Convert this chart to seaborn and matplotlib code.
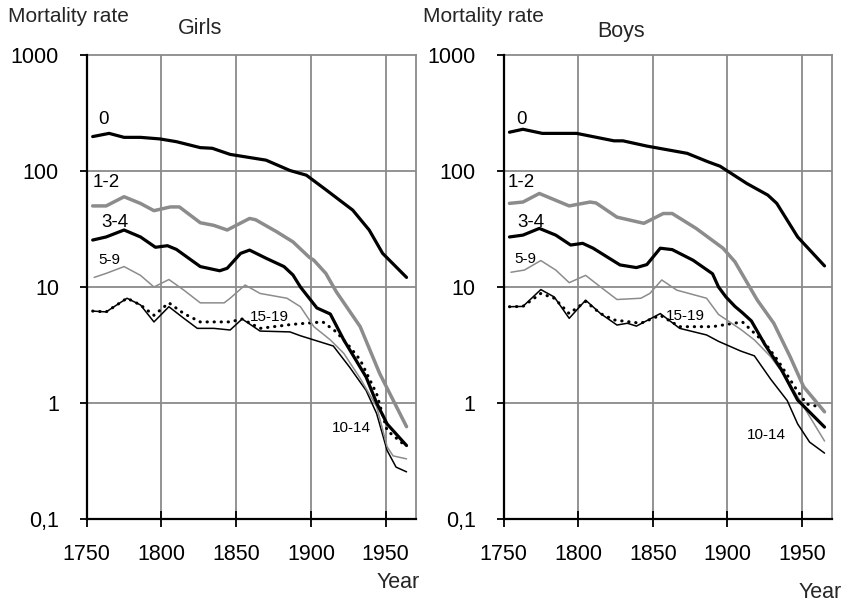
import numpy as np
import pandas as pd
import matplotlib
matplotlib.use("Agg")
import matplotlib.pyplot as plt
import seaborn as sns

# ---------------- data ----------------
# Girls
g0_years = [1754, 1765, 1775, 1786, 1799, 1810, 1826, 1834, 1846, 1870, 1886, 1897, 1910, 1928, 1939, 1948, 1964]
g0_vals = [198, 211, 195, 195, 189, 179, 159, 157, 139, 124, 101, 92, 69, 46, 31, 19.5, 12.1]

g12_years = [1754, 1763, 1775, 1786, 1795, 1806, 1812, 1826, 1835, 1844, 1859, 1863, 1877, 1888, 1899, 1902, 1910, 1917, 1933, 1946, 1964]
g12_vals = [50, 50, 60, 52.5, 45.5, 49, 49, 35.8, 34, 31, 39, 38, 30, 24.5, 18, 17, 13.1, 9.1, 4.55, 1.8, 0.625]

g34_years = [1754, 1763, 1775, 1786, 1796, 1804, 1810, 1826, 1839, 1844, 1853, 1859, 1870, 1882, 1888, 1893, 1904, 1913, 1922, 1937, 1944, 1951, 1964]
g34_vals = [25.4, 27, 31, 27, 22, 22.7, 21.1, 15, 13.8, 14.5, 19.5, 20.8, 17.7, 15, 12.7, 10, 6.6, 5.85, 3.5, 1.67, 1.0, 0.66, 0.43]

g59_years = [1755, 1763, 1775, 1786, 1795, 1805, 1815, 1826, 1842, 1846, 1856, 1866, 1884, 1893, 1902, 1913, 1922, 1933, 1944, 1951, 1955, 1964]
g59_vals = [12.1, 13.1, 15, 12.6, 10, 11.6, 9.4, 7.3, 7.3, 8, 10.4, 8.8, 8, 6.76, 4.55, 3.5, 2.68, 1.63, 0.93, 0.42, 0.35, 0.33]

g1014_years = [1754, 1763, 1777, 1786, 1795, 1805, 1815, 1824, 1835, 1846, 1854, 1866, 1886, 1893, 1915, 1926, 1937, 1944, 1951, 1957, 1964]
g1014_vals = [6.2, 6.1, 8, 7.0, 5.0, 6.76, 5.37, 4.4, 4.4, 4.26, 5.3, 4.17, 4.1, 3.8, 3.1, 2.03, 1.28, 0.81, 0.39, 0.28, 0.255]

g1519_years = [1754, 1763, 1777, 1786, 1795, 1805, 1815, 1826, 1846, 1854, 1866, 1888, 1908, 1917, 1926, 1933, 1944, 1951, 1964]
g1519_vals = [6.2, 6.1, 8, 7.0, 5.7, 7.3, 5.9, 5.0, 5.0, 5.3, 4.4, 4.77, 5.0, 4.1, 3.05, 2.35, 1.2, 0.58, 0.42]

# Boys
b0_years = [1754, 1763, 1776, 1799, 1824, 1830, 1846, 1873, 1887, 1895, 1913, 1927, 1933, 1947, 1965]
b0_vals = [216, 229, 211, 211, 182, 182, 164, 142, 120, 110, 78, 62, 52.6, 27, 15.2]

b12_years = [1754, 1763, 1774, 1794, 1808, 1812, 1826, 1844, 1857, 1863, 1879, 1897, 1905, 1920, 1931, 1942, 1951, 1965]
b12_vals = [52.6, 54, 64, 50, 54, 53, 40, 35.4, 43, 43, 32, 21.6, 16.5, 7.7, 4.87, 2.5, 1.38, 0.84]

b34_years = [1754, 1763, 1774, 1785, 1795, 1803, 1810, 1828, 1839, 1846, 1855, 1863, 1877, 1890, 1894, 1899, 1905, 1910, 1916, 1925, 1936, 1947, 1965]
b34_vals = [27, 28, 32, 28, 23, 23.8, 21.6, 15.5, 14.7, 15.6, 21.6, 21, 17, 13, 10, 8.2, 6.8, 6.0, 5.1, 3.2, 1.95, 1.06, 0.62]

b59_years = [1755, 1764, 1775, 1785, 1794, 1805, 1815, 1826, 1842, 1848, 1856, 1866, 1886, 1894, 1909, 1918, 1929, 1940, 1951, 1965]
b59_vals = [13.4, 14, 16.9, 14, 10.9, 12.6, 10, 7.8, 8, 8.8, 11.5, 9.4, 8, 5.8, 4.3, 3.5, 2.5, 1.6, 0.93, 0.47]

b1014_years = [1754, 1763, 1775, 1784, 1794, 1805, 1815, 1826, 1833, 1839, 1855, 1868, 1886, 1894, 1909, 1918, 1929, 1940, 1947, 1955, 1965]
b1014_vals = [6.76, 6.8, 9.5, 8.2, 5.37, 7.7, 5.9, 4.7, 4.87, 4.6, 5.9, 4.4, 3.86, 3.4, 2.8, 2.55, 1.6, 1.05, 0.66, 0.46, 0.37]

b1519_years = [1754, 1763, 1775, 1784, 1794, 1805, 1815, 1824, 1842, 1855, 1868, 1890, 1910, 1925, 1934, 1945, 1953, 1963]
b1519_vals = [6.76, 6.8, 8.8, 8.0, 5.9, 7.5, 5.9, 5.2, 4.87, 5.7, 4.55, 4.55, 5.0, 3.3, 2.3, 1.38, 0.98, 0.92]

age_groups = ["0", "1-2", "3-4", "5-9", "10-14", "15-19"]
panel_titles = ["Girls", "Boys"]
x_ticks = [1750, 1800, 1850, 1900, 1950]
y_ticks = [0.1, 1, 10, 100, 1000]
y_tick_labels = ["0,1", "1", "10", "100", "1000"]

# label anchor positions (year, value) for the in-plot age labels
girls_label_pos = {"0": (1761, 277), "1-2": (1763, 79), "3-4": (1769, 35.8),
                   "5-9": (1765, 17.1), "15-19": (1872, 5.5), "10-14": (1927, 0.61)}
boys_label_pos = {"0": (1762, 277), "1-2": (1762, 79), "3-4": (1768.5, 36),
                  "5-9": (1764.5, 17.6), "15-19": (1872, 5.6), "10-14": (1926, 0.526)}

girls = {"0": (g0_years, g0_vals), "1-2": (g12_years, g12_vals), "3-4": (g34_years, g34_vals),
         "5-9": (g59_years, g59_vals), "10-14": (g1014_years, g1014_vals), "15-19": (g1519_years, g1519_vals)}
boys = {"0": (b0_years, b0_vals), "1-2": (b12_years, b12_vals), "3-4": (b34_years, b34_vals),
        "5-9": (b59_years, b59_vals), "10-14": (b1014_years, b1014_vals), "15-19": (b1519_years, b1519_vals)}

# ---------------- styling ----------------
sns.set_theme(style="white")
plt.rcParams["font.family"] = ["Liberation Sans", "DejaVu Sans"]

GRID = "#8a8a8a"
GRAY = "#8c8c8c"
styles = {
    "0": dict(color="black", lw=2.3),
    "1-2": dict(color=GRAY, lw=2.5),
    "3-4": dict(color="black", lw=2.3),
    "5-9": dict(color=GRAY, lw=1.1),
    "10-14": dict(color="black", lw=1.1),
    "15-19": dict(color="black", lw=2.2, linestyle=(0, (0.1, 2.2)), dash_capstyle="round"),
}
label_sizes = {"0": 13.5, "1-2": 13.5, "3-4": 13.5, "5-9": 11, "15-19": 11, "10-14": 11}

W, H = 846, 603
fig = plt.figure(figsize=(W / 100, H / 100), dpi=100)
fig.patch.set_facecolor("white")

axes_px = [(86.7, 415.5), (503.5, 832.0)]
top_px, bot_px = 55, 519

for i, (data, lpos) in enumerate([(girls, girls_label_pos), (boys, boys_label_pos)]):
    l, r = axes_px[i]
    ax = fig.add_axes([l / W, 1 - bot_px / H, (r - l) / W, (bot_px - top_px) / H])
    ax.set_yscale("log")
    ax.set_xlim(1750, 1970)
    ax.set_ylim(0.1, 1000)
    # grid
    for xv in x_ticks[1:]:
        ax.axvline(xv, color=GRID, lw=1.3, zorder=0)
    for yv in y_ticks[1:-1]:
        ax.axhline(yv, color=GRID, lw=1.3, zorder=0)
    order = ["15-19", "10-14", "5-9", "3-4", "1-2", "0"]
    for key in order:
        yrs, vals = data[key]
        df = pd.DataFrame({"Year": yrs, "Rate": vals})
        sns.lineplot(data=df, x="Year", y="Rate", ax=ax, sort=False, zorder=3, **styles[key])
    for key in age_groups:
        xv, yv = lpos[key]
        ax.text(xv, yv, key, fontsize=label_sizes[key], ha="center", va="center", color="black", zorder=5)
    ax.set_xlabel("")
    ax.set_ylabel("")
    ax.set_xticks(x_ticks)
    ax.set_xticklabels([str(t) for t in x_ticks], fontsize=15.5)
    ax.set_yticks(y_ticks)
    ax.set_yticklabels(y_tick_labels, fontsize=15.5)
    ax.minorticks_off()
    ax.tick_params(axis="x", direction="inout", length=12, width=1.3, color="black", pad=12, labelcolor="black")
    ax.tick_params(axis="y", direction="out", length=5, width=1.3, color="black", pad=15, labelcolor="black", left=True)
    ax.tick_params(axis="x", bottom=True)
    for s in ["left", "bottom"]:
        ax.spines[s].set_color("black")
        ax.spines[s].set_linewidth(1.6)
        ax.spines[s].set_zorder(4)
    for s in ["top", "right"]:
        ax.spines[s].set_color(GRID)
        ax.spines[s].set_linewidth(1.3)
    ax.set_facecolor("white")

# titles and axis captions
fig.text(8 / W, 1 - 16 / H, "Mortality rate", fontsize=15, ha="left", va="center")
fig.text(423 / W, 1 - 16 / H, "Mortality rate", fontsize=15, ha="left", va="center")
fig.text(200 / W, 1 - 28 / H, "Girls", fontsize=15.5, ha="center", va="center")
fig.text(621 / W, 1 - 32 / H, "Boys", fontsize=15.5, ha="center", va="center")
fig.text(398.5 / W, 1 - 583 / H, "Year", fontsize=15.5, ha="center", va="center")
fig.text(820 / W, 1 - 593 / H, "Year", fontsize=15.5, ha="center", va="center")

fig.savefig("out.png", dpi=100, facecolor="white")
